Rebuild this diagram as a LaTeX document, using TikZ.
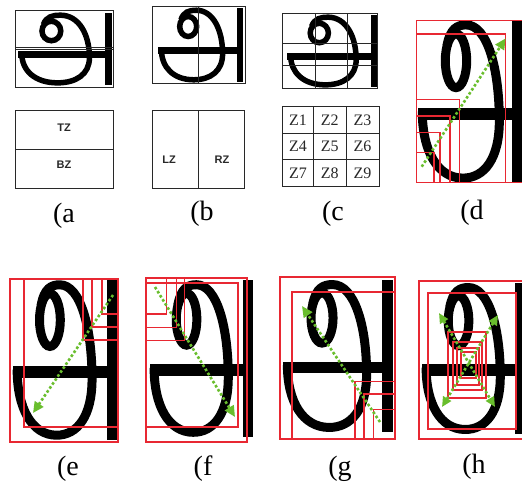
\documentclass[tikz,border=0pt]{standalone}
\usepackage{fontspec}
\setmainfont{Liberation Serif}
\newfontfamily\zsans{Liberation Sans}
\usetikzlibrary{arrows.meta}
\definecolor{boxred}{RGB}{232,40,50}
\definecolor{dotgreen}{RGB}{105,190,45}
\definecolor{tabgray}{RGB}{40,40,40}
% #1 x0, #2 y0, #3 width, #4 height, #5 stroke width, #6 stem fraction, #7 ring y radius
\newcommand{\drawGlyph}[7]{%
\begin{scope}[shift={(#1,#2)}, xscale=#3, yscale=#4]
 \draw[line width=#5pt] (0.355,0.25) ellipse [x radius=0.1, y radius=#7];
 \draw[line width=#5pt] (0.27,0.16) .. controls (0.30,0.05) and (0.37,0.03) .. (0.45,0.03)
   .. controls (0.65,0.03) and (0.76,0.3) .. (0.76,0.62)
   .. controls (0.76,0.85) and (0.62,0.97) .. (0.42,0.97)
   .. controls (0.18,0.97) and (0.04,0.8) .. (0.04,0.56);
 \draw[line width=1.3*#5pt] (0,0.575) -- (1-#6,0.575);
 \fill (1-#6,0) rectangle (1,1);
\end{scope}}
\tikzset{
 redbox/.style={draw=boxred, line width=1.3pt},
 garrow/.style={draw=dotgreen, line width=2.6pt, dash pattern=on 2.6pt off 2.2pt,
   -{Triangle[length=11pt,width=10pt,fill=dotgreen]}},
 garrowboth/.style={draw=dotgreen, line width=2.6pt, dash pattern=on 2.6pt off 2.2pt,
   {Triangle[length=10pt,width=9pt,fill=dotgreen]}-{Triangle[length=10pt,width=9pt,fill=dotgreen]}},
 zline/.style={draw=tabgray, line width=0.9pt},
 caption/.style={font=\fontsize{28}{30}\selectfont, anchor=base, inner sep=0pt},
 sanslab/.style={font=\zsans\bfseries\fontsize{11}{13}\selectfont, text=tabgray, inner sep=0pt},
 seriflab/.style={font=\fontsize{16}{18}\selectfont, text=tabgray, inner sep=0pt}
}
\begin{document}
\begin{tikzpicture}[x=1pt,y=-1pt]
\useasboundingbox (0,0) rectangle (522,483);
\clip (0,0) rectangle (522,483);
\fill[white] (0,0) rectangle (522,483);

% ---------- glyphs ----------
\drawGlyph{18}{13}{94}{72}{5.5}{0.075}{0.135}
\drawGlyph{158}{8}{85}{74}{5.5}{0.075}{0.135}
\drawGlyph{287}{15}{91}{72}{5.5}{0.075}{0.135}
\drawGlyph{418}{20}{107}{163}{9}{0.12}{0.165}
\drawGlyph{13}{280}{104}{160}{9}{0.1}{0.165}
\drawGlyph{150}{280}{103}{157}{9}{0.1}{0.165}
\drawGlyph{283}{280}{110}{152}{9}{0.1}{0.165}
\drawGlyph{422}{283}{103}{151}{9}{0.1}{0.165}

% ---------- (a) ----------
\draw[zline] (15,10) rectangle (113,87);
\draw[zline] (15,47.7) -- (113,47.7);
\draw[zline] (15,49.7) -- (113,49.7);
\draw[zline] (15,110) rectangle (113,188);
\draw[zline] (15,149.3) -- (113,149.3);
\node[sanslab] (tz) at (64,128) {TZ};
\node[sanslab] (bz) at (64,165) {BZ};
\node[caption] (la) at (64,222) {(a};

% ---------- (b) ----------
\draw[zline] (152.7,6.7) rectangle (245,83);
\draw[zline] (198.3,6.7) -- (198.3,83);
\draw[zline] (152.7,110) rectangle (244,188);
\draw[zline] (198.3,110) -- (198.3,188);
\node[sanslab] (lz) at (169,160) {LZ};
\node[sanslab] (rz) at (222,160) {RZ};
\node[caption] (lb) at (202,220) {(b};

% ---------- (c) ----------
\draw[zline] (282.7,13) rectangle (377,88);
\draw[zline] (315,13) -- (315,88);
\draw[zline] (347.3,13) -- (347.3,88);
\draw[zline] (282.7,43.3) -- (377,43.3);
\draw[zline] (282.7,65) -- (377,65);
\draw[zline] (282.7,106.7) rectangle (379,186.7);
\draw[zline] (313.3,106.7) -- (313.3,186.7);
\draw[zline] (346,106.7) -- (346,186.7);
\draw[zline] (282.7,133.3) -- (379,133.3);
\draw[zline] (282.7,159.3) -- (379,159.3);
\node[seriflab] (z1) at (298,120) {Z1};
\node[seriflab] (z2) at (329.7,120) {Z2};
\node[seriflab] (z3) at (362.5,120) {Z3};
\node[seriflab] (z4) at (298,146.3) {Z4};
\node[seriflab] (z5) at (329.7,146.3) {Z5};
\node[seriflab] (z6) at (362.5,146.3) {Z6};
\node[seriflab] (z7) at (298,173) {Z7};
\node[seriflab] (z8) at (329.7,173) {Z8};
\node[seriflab] (z9) at (362.5,173) {Z9};
\node[caption] (lc) at (333,220) {(c};

% ---------- (d) ----------
\draw[redbox] (416.7,20.7) rectangle (530,182.7);
\draw[redbox] (416.7,34) rectangle (505.7,182.7);
\draw[redbox] (416.7,99.3) rectangle (459.3,182.7);
\draw[redbox] (416.7,116) rectangle (450,182.7);
\draw[redbox] (416.7,132.7) rectangle (440,182.7);
\draw[redbox] (416.7,152.7) rectangle (434,182.7);
\coordinate (ds) at (421.7,166.7);
\coordinate (dt) at (505.7,38.3);
\draw[garrow] (ds) -- (dt);
\node[caption] (ld) at (472,219) {(d};

% ---------- (e) ----------
\draw[redbox] (10,279) rectangle (118,442);
\draw[redbox] (24,279) rectangle (118,427);
\draw[redbox] (83,279) rectangle (118,340);
\draw[redbox] (92,279) rectangle (118,327);
\draw[redbox] (102,279) rectangle (118,314);
\coordinate (es) at (113,295);
\coordinate (et) at (33,413);
\draw[garrow] (es) -- (et);
\node[caption] (le) at (68,475) {(e};

% ---------- (f) ----------
\draw[redbox] (146,278) rectangle (247,442);
\draw[redbox] (146,283) rectangle (238,427);
\draw[redbox] (146,278) rectangle (166.7,314);
\draw[redbox] (146,278) rectangle (176.7,327.3);
\draw[redbox] (146,278) rectangle (184.3,340.7);
\coordinate (fs) at (155,287);
\coordinate (ft) at (235,417);
\draw[garrow] (fs) -- (ft);
\node[caption] (lf) at (203,475) {(f};

% ---------- (g) ----------
\draw[redbox] (280,277) rectangle (395,439);
\draw[redbox] (292,292) rectangle (395,439);
\draw[redbox] (355,381.7) rectangle (395,439);
\draw[redbox] (364,394) rectangle (395,439);
\draw[redbox] (373.3,409.3) rectangle (395,439);
\coordinate (gs) at (380,422);
\coordinate (gt) at (302,306);
\draw[garrow] (gs) -- (gt);
\node[caption] (lg) at (340,475) {(g};

% ---------- (h) ----------
\draw[redbox] (419,281) rectangle (523,439);
\draw[redbox] (428,293) rectangle (516,429);
\draw[redbox] (448,332) rectangle (486,398);
\draw[redbox] (453,342) rectangle (482,390);
\draw[redbox] (457,348) rectangle (479,385);
\draw[redbox] (461,352) rectangle (476,378);
\coordinate (htl) at (439,313);
\coordinate (hbr) at (495,407);
\coordinate (htr) at (498,315);
\coordinate (hbl) at (442,407);
\draw[garrowboth] (htl) -- (hbr);
\draw[garrowboth] (htr) -- (hbl);
\node[caption] (lh) at (474,473) {(h};
\end{tikzpicture}
\end{document}
